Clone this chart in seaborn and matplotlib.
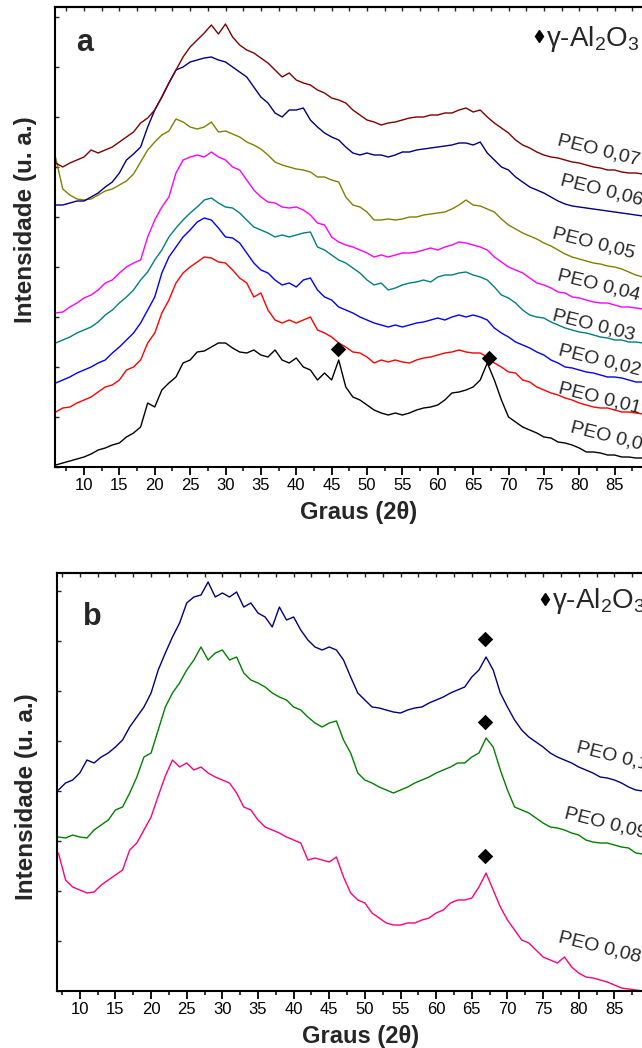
import numpy as np
import pandas as pd
import matplotlib
matplotlib.use("Agg")
import matplotlib.pyplot as plt
import seaborn as sns
from matplotlib.ticker import MultipleLocator, FixedLocator
from matplotlib.lines import Line2D

# ---------------- data: panel a (2theta grid, intensity in a.u.) ----------------
theta_a = [6, 7, 8, 9, 10, 11, 12, 13, 14, 15, 16, 17, 18, 19, 20, 21, 22, 23, 24, 25,
           26, 27, 28, 29, 30, 31, 32, 33, 34, 35, 36, 37, 38, 39, 40, 41, 42, 43, 44, 45,
           46, 47, 48, 49, 50, 51, 52, 53, 54, 55, 56, 57, 58, 59, 60, 61, 62, 63, 64, 65,
           66, 67, 68, 69, 70, 71, 72, 73, 74, 75, 76, 77, 78, 79, 80, 81, 82, 83, 84, 85,
           86, 87, 88, 89, 90]

peo_000 = [2, 4, 6, 8, 10, 13, 17, 19, 22, 24, 30, 34, 40, 64, 60, 77, 84, 90, 104, 107,
           115, 116, 120, 124, 124, 119, 115, 114, 117, 112, 110, 117, 107, 104, 109, 100, 97, 87, 94, 87,
           107, 80, 70, 67, 62, 57, 54, 52, 54, 52, 54, 57, 59, 60, 62, 67, 74, 75, 77, 80,
           87, 104, 87, 67, 50, 45, 40, 37, 34, 30, 29, 25, 24, 22, 19, 15, 15, 14, 12, 12,
           10, 10, 9, 9, 8]
peo_001 = [55, 59, 60, 64, 67, 70, 75, 80, 82, 87, 97, 100, 107, 124, 134, 154, 167, 184, 194, 200,
           205, 210, 209, 205, 204, 197, 189, 184, 170, 174, 157, 147, 144, 147, 144, 147, 150, 137, 134, 130,
           124, 120, 115, 114, 110, 104, 107, 105, 107, 105, 104, 107, 109, 110, 112, 114, 115, 117, 115, 114,
           114, 110, 104, 100, 95, 94, 87, 85, 80, 77, 74, 72, 69, 67, 64, 62, 60, 59, 59, 57,
           55, 55, 54, 53, 52]
peo_002 = [84, 87, 90, 94, 97, 100, 104, 107, 114, 120, 127, 134, 144, 157, 170, 194, 210, 220, 230, 237,
           245, 249, 247, 239, 230, 229, 224, 214, 204, 197, 194, 187, 182, 184, 180, 187, 189, 177, 170, 167,
           160, 157, 154, 150, 147, 144, 142, 140, 142, 140, 142, 144, 145, 147, 149, 147, 150, 152, 150, 152,
           150, 147, 139, 134, 130, 125, 122, 119, 115, 112, 107, 104, 100, 99, 97, 95, 94, 92, 90, 90,
           89, 87, 85, 85, 84]
peo_003 = [124, 127, 130, 134, 137, 140, 145, 152, 157, 164, 170, 177, 187, 195, 207, 217, 230, 239, 247, 254,
           260, 267, 269, 264, 260, 259, 254, 247, 240, 237, 234, 230, 232, 230, 232, 234, 235, 220, 217, 212,
           207, 204, 199, 194, 187, 182, 184, 177, 179, 182, 184, 185, 187, 185, 190, 192, 192, 194, 195, 192,
           190, 187, 180, 172, 169, 164, 157, 152, 150, 149, 145, 142, 139, 137, 135, 134, 132, 130, 129, 127,
           127, 125, 125, 124, 124]
peo_004 = [154, 155, 160, 164, 169, 172, 177, 184, 187, 194, 200, 204, 207, 230, 247, 260, 270, 294, 307, 310,
           312, 310, 315, 310, 307, 300, 297, 287, 277, 270, 265, 264, 260, 259, 260, 257, 252, 244, 242, 230,
           225, 222, 220, 217, 214, 210, 212, 210, 212, 214, 214, 215, 217, 219, 217, 220, 222, 225, 224, 222,
           220, 217, 210, 205, 200, 197, 194, 189, 184, 182, 179, 175, 174, 170, 169, 167, 165, 164, 164, 162,
           160, 160, 159, 158, 157]
peo_005 = [309, 278, 272, 268, 267, 268, 272, 276, 278, 282, 286, 293, 305, 317, 325, 332, 336, 348, 345, 340,
           338, 340, 345, 335, 336, 333, 330, 325, 322, 318, 312, 305, 302, 300, 298, 297, 295, 290, 290, 287,
           285, 270, 262, 260, 255, 247, 247, 248, 247, 248, 250, 250, 252, 253, 254, 255, 258, 262, 267, 262,
           261, 258, 255, 248, 242, 238, 234, 231, 228, 224, 221, 217, 213, 210, 208, 206, 204, 203, 201, 200,
           198, 195, 192, 190, 188]
peo_006 = [262, 262, 264, 266, 266, 270, 274, 280, 285, 294, 307, 313, 320, 340, 357, 370, 384, 397, 400, 405,
           407, 409, 410, 407, 405, 400, 395, 390, 380, 370, 364, 354, 350, 357, 357, 359, 347, 340, 334, 330,
           327, 320, 314, 312, 314, 312, 312, 310, 312, 315, 315, 317, 318, 319, 320, 321, 322, 324, 324, 322,
           325, 314, 307, 300, 297, 290, 285, 280, 277, 274, 270, 266, 263, 261, 260, 259, 258, 257, 256, 255,
           254, 253, 252, 251, 251]
peo_007 = [304, 300, 304, 307, 310, 317, 314, 317, 320, 325, 330, 335, 344, 349, 357, 370, 384, 397, 410, 420,
           427, 434, 442, 433, 443, 430, 422, 417, 414, 409, 404, 397, 390, 394, 387, 384, 382, 377, 374, 369,
           367, 364, 357, 352, 347, 345, 342, 344, 345, 347, 349, 350, 350, 352, 352, 354, 354, 357, 359, 355,
           357, 350, 344, 339, 334, 327, 322, 319, 315, 312, 310, 309, 307, 305, 304, 302, 300, 299, 297, 297,
           295, 294, 294, 293, 292]

names_a = ["PEO 0,00", "PEO 0,01", "PEO 0,02", "PEO 0,03",
           "PEO 0,04", "PEO 0,05", "PEO 0,06", "PEO 0,07"]
series_a = [peo_000, peo_001, peo_002, peo_003, peo_004, peo_005, peo_006, peo_007]
colors_a = ["#000000", "#ff0000", "#0000ff", "#008080",
            "#ff00ff", "#808000", "#000080", "#800000"]

# gamma-Al2O3 reflections marked in panel a
peak_a_x = [45.9, 67.3]
peak_a_y = [118, 109]

# ---------------- data: panel b ----------------
theta_b = [7, 8, 9, 10, 11, 12, 13, 14, 15, 16, 17, 18, 19, 20, 21, 22, 23, 24, 25,
           26, 27, 28, 29, 30, 31, 32, 33, 34, 35, 36, 37, 38, 39, 40, 41, 42, 43, 44, 45,
           46, 47, 48, 49, 50, 51, 52, 53, 54, 55, 56, 57, 58, 59, 60, 61, 62, 63, 64, 65,
           66, 67, 68, 69, 70, 71, 72, 73, 74, 75, 76, 77, 78, 79, 80, 81, 82, 83, 84, 85,
           86, 87, 88, 89, 90]

peo_008 = [138, 111, 104, 101, 98, 99, 106, 111, 116, 121, 141, 148, 161, 174, 195, 215, 231, 224, 228,
           221, 224, 218, 214, 211, 208, 198, 184, 181, 171, 164, 161, 158, 154, 151, 148, 131, 133, 131, 129,
           134, 114, 98, 91, 88, 78, 73, 68, 66, 66, 68, 68, 71, 73, 78, 81, 88, 91, 91, 93,
           104, 118, 101, 84, 71, 61, 51, 48, 41, 34, 31, 28, 34, 24, 18, 14, 13, 11, 9, 6,
           3, 2, 1, 0, 0]
peo_009 = [154, 153, 156, 154, 153, 161, 166, 171, 181, 184, 198, 214, 234, 238, 261, 284, 298, 308, 321,
           331, 344, 331, 338, 341, 331, 334, 318, 311, 308, 304, 298, 294, 291, 284, 281, 274, 268, 264, 268,
           270, 251, 238, 218, 211, 208, 204, 201, 198, 201, 204, 208, 211, 214, 218, 221, 224, 228, 228, 234,
           238, 253, 244, 221, 201, 184, 181, 178, 173, 168, 164, 163, 161, 158, 156, 151, 149, 148, 148, 146,
           144, 143, 138, 137, 136]
peo_010 = [201, 208, 211, 218, 231, 228, 234, 238, 244, 251, 264, 274, 284, 298, 321, 338, 354, 368, 388,
           394, 396, 409, 394, 398, 394, 399, 384, 388, 378, 374, 364, 384, 371, 374, 361, 351, 344, 341, 344,
           341, 331, 314, 298, 291, 284, 283, 281, 279, 278, 281, 283, 284, 288, 291, 294, 298, 301, 304, 314,
           321, 334, 321, 298, 284, 271, 261, 254, 249, 244, 238, 234, 231, 228, 224, 221, 218, 214, 213, 211,
           208, 204, 201, 200, 199]

names_b = ["PEO 0,08", "PEO 0,09", "PEO 0,1"]
series_b = [peo_008, peo_009, peo_010]
colors_b = ["#ff0080", "#008000", "#000080"]

peak_b_x = [66.8, 66.8, 66.8]
peak_b_y = [135, 269, 352]

xtick_values = [10, 15, 20, 25, 30, 35, 40, 45, 50, 55, 60, 65, 70, 75, 80, 85]

# ---------------- style ----------------
sns.set_theme(style="ticks")
plt.rcParams["font.family"] = ["Liberation Sans", "DejaVu Sans"]
plt.rcParams["mathtext.fontset"] = "custom"
plt.rcParams["mathtext.rm"] = "Liberation Sans"
plt.rcParams["mathtext.default"] = "regular"
plt.rcParams["axes.linewidth"] = 1.5

fig = plt.figure(figsize=(6.42, 10.48), dpi=100)
W, H = 642.0, 1048.0
ax_a = fig.add_axes([55 / W, (H - 467) / H, 595 / W, 460 / H])
ax_b = fig.add_axes([57 / W, (H - 991) / H, 593 / W, 418 / H])


def draw_panel(ax, theta, series, names, colors, peak_x, peak_y, xlim, ylim):
    df = pd.DataFrame({
        "theta": np.tile(theta, len(series)),
        "I": np.concatenate([np.asarray(s, float) for s in series]),
        "amostra": np.repeat(names, len(theta)),
    })
    sns.lineplot(data=df, x="theta", y="I", hue="amostra",
                 palette=dict(zip(names, colors)), legend=False,
                 linewidth=1.0, estimator=None, sort=False, ax=ax)
    sns.scatterplot(x=peak_x, y=peak_y, marker="D", s=62, color="black",
                    linewidth=0, ax=ax, zorder=5)
    ax.set_xlim(*xlim)
    ax.set_ylim(*ylim)
    ax.xaxis.set_major_locator(FixedLocator(xtick_values))
    ax.xaxis.set_minor_locator(MultipleLocator(2.5))
    ax.tick_params(axis="x", which="major", direction="out", length=6,
                   width=1.3, labelsize=12, pad=2, colors="black")
    ax.tick_params(axis="x", which="minor", direction="out", length=3, width=1.3)
    ax.yaxis.set_major_locator(MultipleLocator(50))
    ax.tick_params(axis="y", which="major", direction="in", length=3,
                   width=1.0, labelleft=False)
    for sp in ax.spines.values():
        sp.set_linewidth(1.5)
        sp.set_color("black")
    top = ax.secondary_xaxis("top")
    top.xaxis.set_major_locator(MultipleLocator(2.5))
    top.tick_params(direction="in", length=3, width=1.0, labeltop=False)
    top.spines["top"].set_linewidth(1.5)
    ax.set_xlabel("Graus (2θ)", fontsize=17, fontweight="bold")
    ax.set_ylabel("Intensidade (u. a.)", fontsize=17.5, fontweight="bold")


draw_panel(ax_a, theta_a, series_a, names_a, colors_a, peak_a_x, peak_a_y,
           (5.9, 90), (0, 460))
draw_panel(ax_b, theta_b, series_b, names_b, colors_b, peak_b_x, peak_b_y,
           (6.8, 90), (0, 418))

# axis label placement
ax_a.xaxis.set_label_coords(0.51, -0.100)
ax_a.xaxis.label.set_va("center")
ax_a.yaxis.set_label_coords(-0.049, 0.537)
ax_a.yaxis.label.set_va("center")
ax_b.xaxis.set_label_coords(0.512, -0.110)
ax_b.xaxis.label.set_va("center")
ax_b.yaxis.set_label_coords(-0.052, 0.464)
ax_b.yaxis.label.set_va("center")

# panel letters
ax_a.text(0.049, 0.922, "a", transform=ax_a.transAxes, fontsize=22,
          fontweight="bold", ha="center", va="center")
ax_b.text(0.059, 0.895, "b", transform=ax_b.transAxes, fontsize=22,
          fontweight="bold", ha="center", va="center")

# curve labels
lab_a_x = [78.8, 77.1, 77.1, 76.3, 76.9, 76.3, 77.4, 76.9]
lab_a_y = [40, 79, 117, 152, 192, 234, 287, 327]
for t, x, y in zip(names_a, lab_a_x, lab_a_y):
    ax_a.text(x, y, t, fontsize=14, rotation=-14, rotation_mode="anchor",
              ha="left", va="center", clip_on=False)
lab_b_x = [77.2, 78.0, 79.7]
lab_b_y = [54, 178, 244]
for t, x, y in zip(names_b, lab_b_x, lab_b_y):
    ax_b.text(x, y, t, fontsize=14, rotation=-14, rotation_mode="anchor",
              ha="left", va="center", clip_on=False)

# gamma-Al2O3 key
handle = [Line2D([], [], marker="d", color="black", linestyle="none", markersize=6.5)]
for ax, anchor in ((ax_a, (0.802, 0.930)), (ax_b, (0.811, 0.932))):
    ax.legend(handle, ["γ-Al$_2$O$_3$"], loc="center left", bbox_to_anchor=anchor,
              frameon=False, handlelength=0.5, handletextpad=0.0, borderpad=0,
              borderaxespad=0, fontsize=20)

fig.savefig("out.png", dpi=100, facecolor="white")
